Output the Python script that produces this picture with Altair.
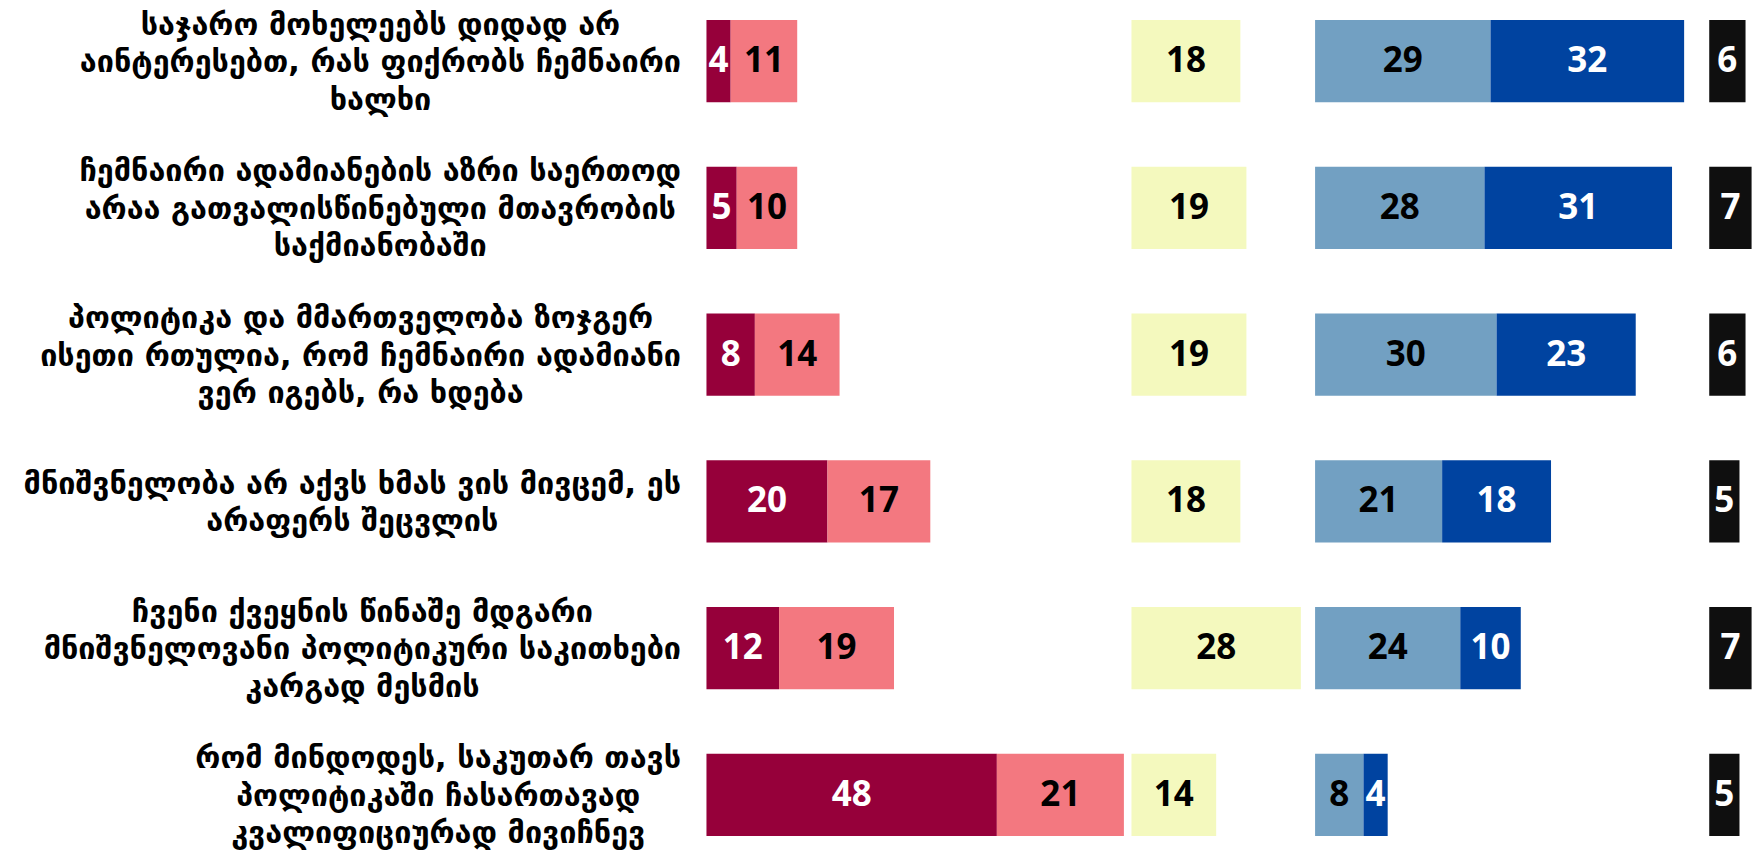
import glob
import altair as alt
import pandas as pd

# ---- data ----
statements = [
    ["საჯარო მოხელეებს დიდად არ", "აინტერესებთ, რას ფიქრობს ჩემნაირი", "ხალხი"],
    ["ჩემნაირი ადამიანების აზრი საერთოდ", "არაა გათვალისწინებული მთავრობის", "საქმიანობაში"],
    ["პოლიტიკა და მმართველობა ზოჯგერ", "ისეთი რთულია, რომ ჩემნაირი ადამიანი", "ვერ იგებს, რა ხდება"],
    ["მნიშვნელობა არ აქვს ხმას ვის მივცემ, ეს", "არაფერს შეცვლის"],
    ["ჩვენი ქვეყნის წინაშე მდგარი", "მნიშვნელოვანი პოლიტიკური საკითხები", "კარგად მესმის"],
    ["რომ მინდოდეს, საკუთარ თავს", "პოლიტიკაში ჩასართავად", "კვალიფიციურად მივიჩნევ"],
]
strongly_disagree = [4, 5, 8, 20, 12, 48]
disagree = [11, 10, 14, 17, 19, 21]
neutral = [18, 19, 19, 18, 28, 14]
agree = [29, 28, 30, 21, 24, 8]
strongly_agree = [32, 31, 23, 18, 10, 4]
dont_know = [6, 7, 6, 5, 7, 5]

segments = ["sd", "d", "n", "a", "sa", "dk"]
seg_values = [strongly_disagree, disagree, neutral, agree, strongly_agree, dont_know]
seg_group = ["disagree", "disagree", "neutral", "agree", "agree", "dk"]
seg_colors = ["#96003A", "#F37880", "#F4F9BE", "#72A0C2", "#0043A0", "#0F0F0F"]
seg_text_colors = ["white", "black", "black", "black", "white", "white"]

# ---- layout ----
group_offset = {"disagree": 0.0, "neutral": 70.25, "agree": 100.6, "dk": 165.75}
X_DOMAIN = [-115.45, 173.48]
UNIT_PX = 6.05
LABEL_RIGHT = -4.2  # in x units
GEO_FONT = 30.5
LINE_H = 37.5
NUM_FONT = 35
TEXT_SHIFT = 2.0

row_keys = [str(i) for i in range(len(statements))]

rows = []
for i in range(len(statements)):
    cum = {}
    for s, vals, g, c, tc in zip(segments, seg_values, seg_group, seg_colors, seg_text_colors):
        start = group_offset[g] + cum.get(g, 0)
        v = vals[i]
        cum[g] = cum.get(g, 0) + v
        rows.append(dict(row=row_keys[i], seg=s, value=v, x0=start, x1=start + v,
                         xm=start + v / 2, color=c, tcolor=tc))
bars = pd.DataFrame(rows)

# text width measurement (falls back to an estimate)
_measure = None
try:
    from PIL import ImageFont
    paths = glob.glob("/usr/share/fonts/**/DejaVuSans-Bold.ttf", recursive=True)
    if paths:
        _f = ImageFont.truetype(paths[0], int(GEO_FONT * 4))
        _measure = lambda s: _f.getlength(s) / 4.0
except Exception:
    _measure = None


def est_width(line):
    if _measure is not None:
        try:
            return _measure(line)
        except Exception:
            pass
    w = 0.0
    for ch in line:
        if ch == " ":
            w += 0.33
        elif ch == ",":
            w += 0.36
        else:
            w += 0.63
    return w * GEO_FONT


labels = pd.DataFrame({
    "row": row_keys,
    "text": ["\n".join(s) for s in statements],
    "nlines": [len(s) for s in statements],
    "xc": [LABEL_RIGHT - max(est_width(l) for l in s) / 2 / UNIT_PX for s in statements],
})

xs = alt.Scale(domain=X_DOMAIN, nice=False, zero=False)
ys = alt.Scale(domain=row_keys, paddingInner=0.44, paddingOuter=0.0923, align=0.443)

base = alt.Chart(bars)
rect = base.mark_bar().encode(
    x=alt.X("x0:Q", scale=xs, axis=None),
    x2="x1:Q",
    y=alt.Y("row:N", scale=ys, axis=None),
    color=alt.Color("color:N", scale=None, legend=None),
)
nums = base.mark_text(font="Noto Sans", fontWeight="bold", fontSize=NUM_FONT,
                      align="center", baseline="middle").encode(
    x=alt.X("xm:Q", scale=xs, axis=None),
    y=alt.Y("row:N", scale=ys, axis=None),
    text="value:Q",
    color=alt.Color("tcolor:N", scale=None, legend=None),
)

label_layers = []
for n in sorted(set(labels["nlines"])):
    label_layers.append(
        alt.Chart(labels).transform_filter(alt.datum.nlines == n).mark_text(
            font="DejaVu Sans", fontWeight="bold", fontSize=GEO_FONT,
            align="center", baseline="middle", lineBreak="\n",
            lineHeight=LINE_H, color="black",
            dy=-(n - 1) / 2 * LINE_H + TEXT_SHIFT,
        ).encode(
            x=alt.X("xc:Q", scale=xs, axis=None),
            y=alt.Y("row:N", scale=ys, axis=None),
            text="text:N",
        )
    )

chart = alt.layer(rect, nums, *label_layers).properties(
    width=1748, height=843, padding=0,
    autosize=alt.AutoSizeParams(type="none"),
).configure_view(stroke=None)

chart.save("out.html", embed_options={"renderer": "svg", "actions": False})
